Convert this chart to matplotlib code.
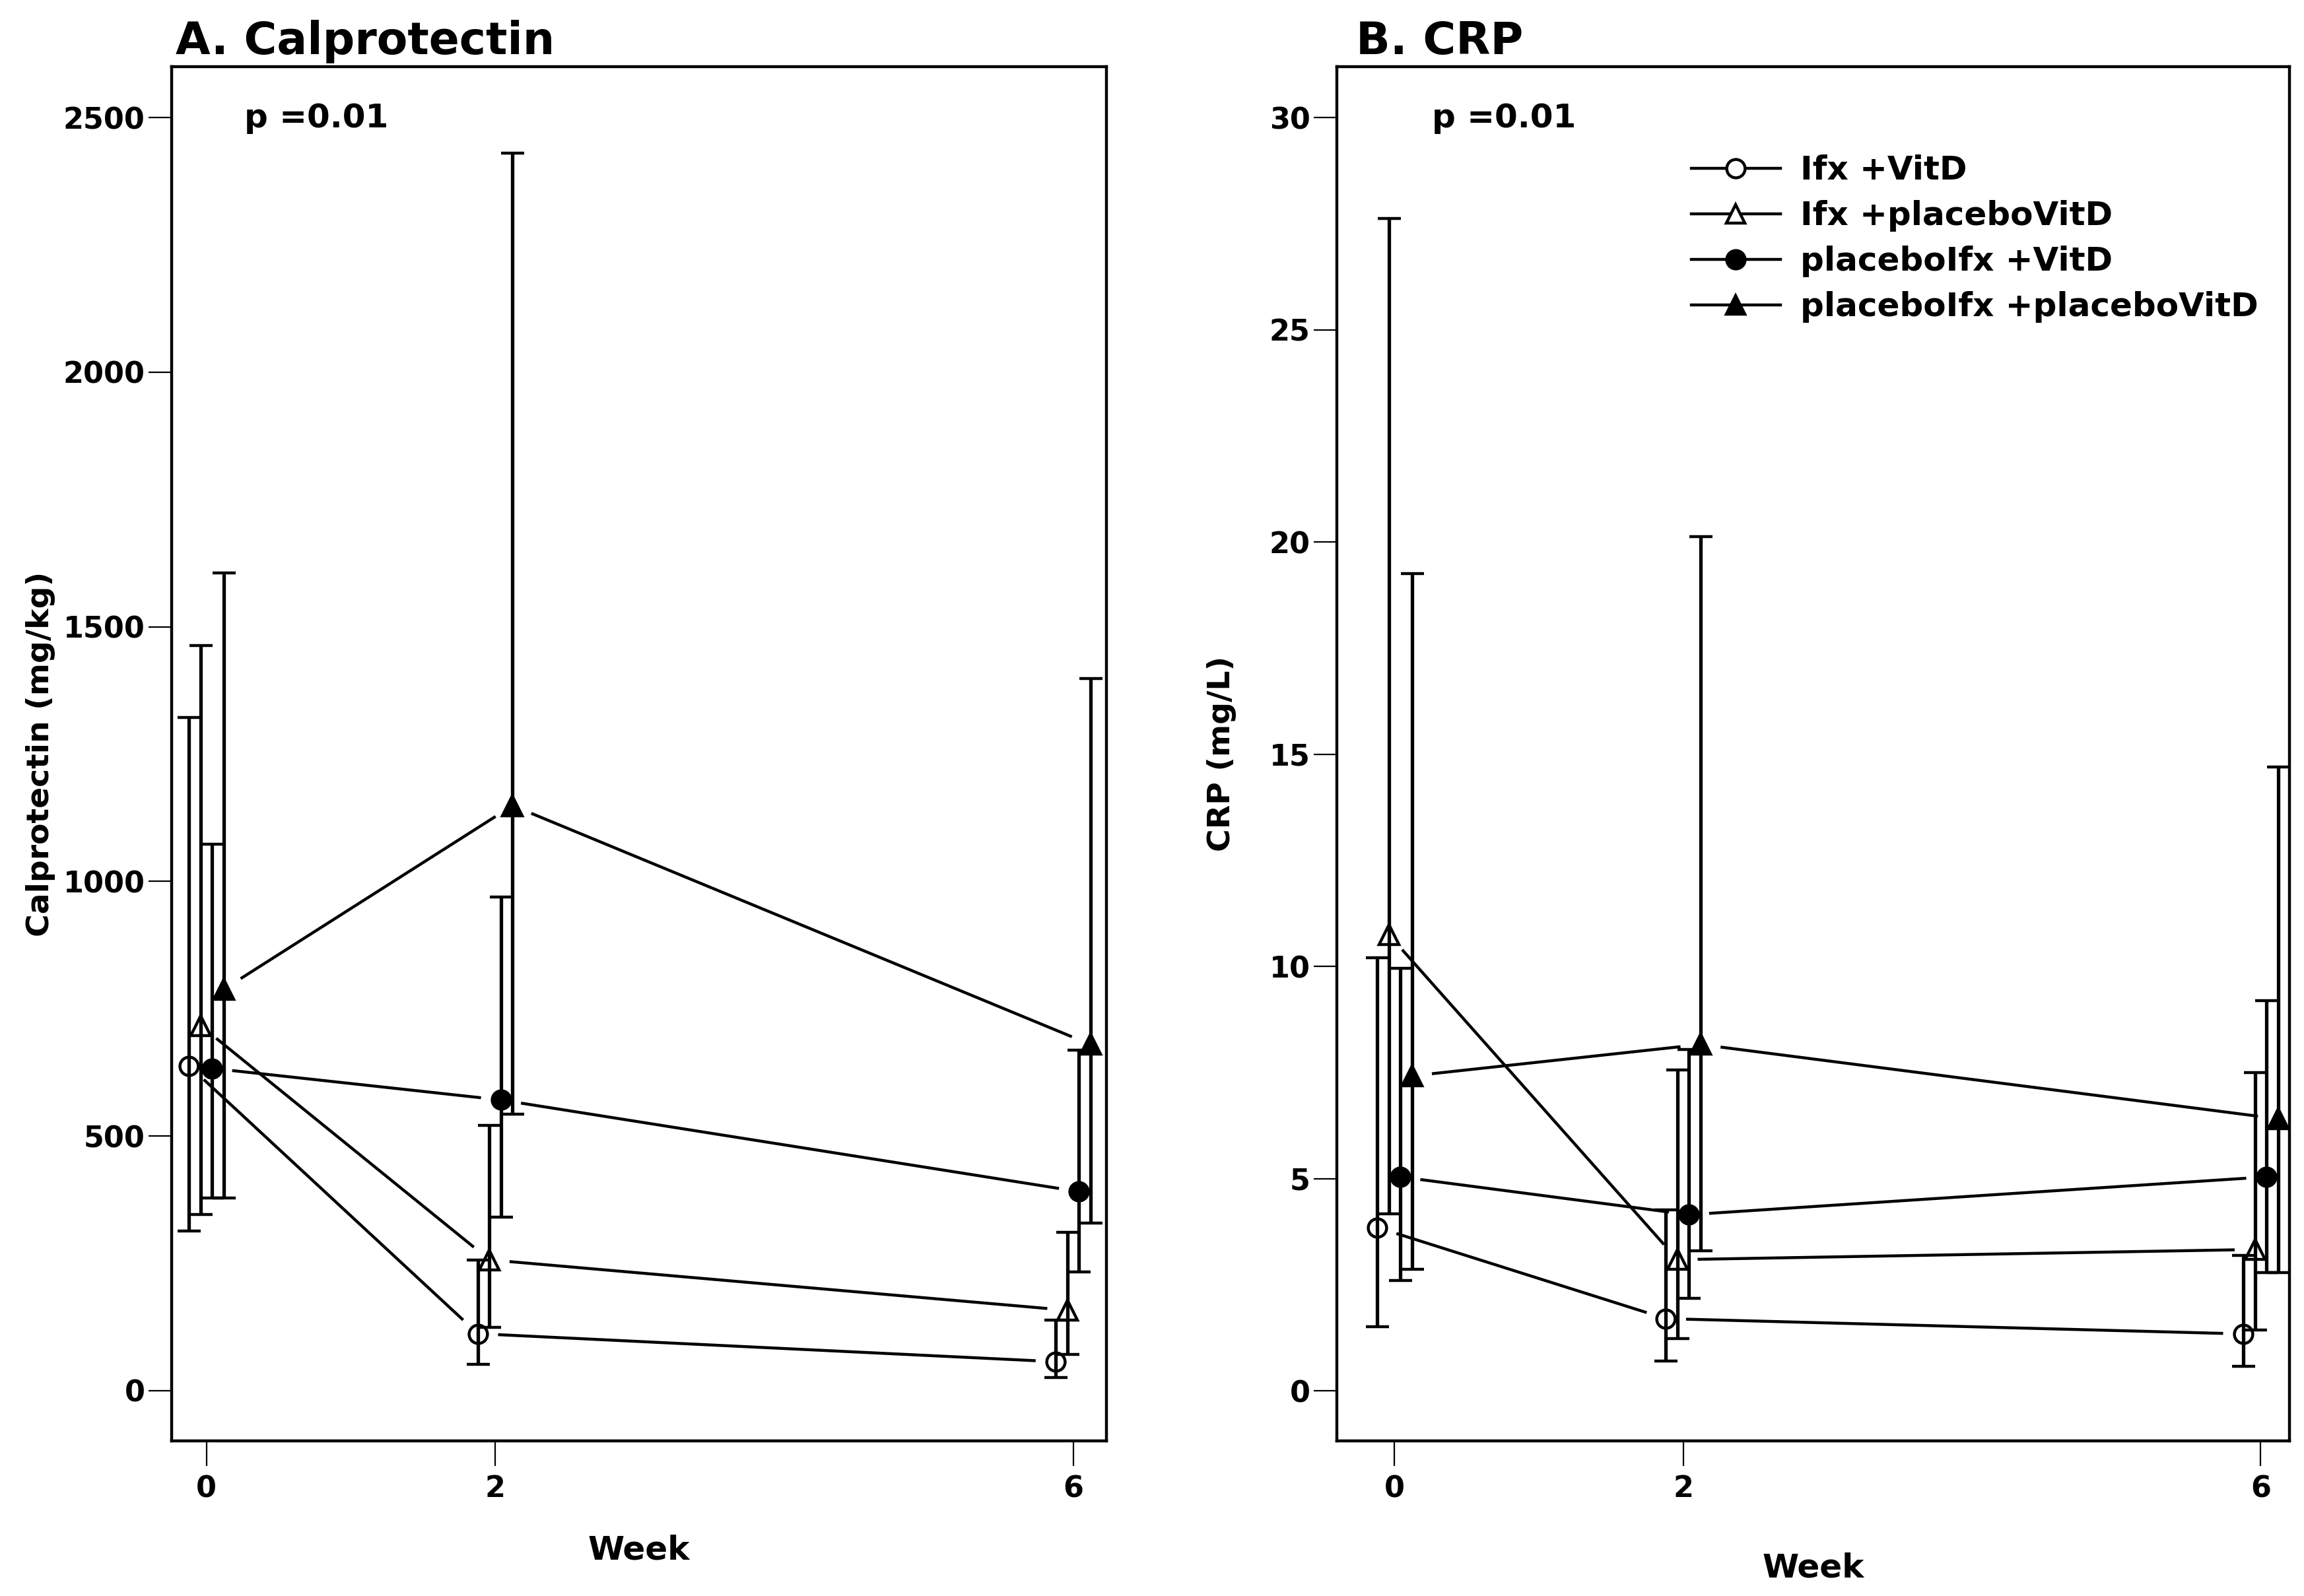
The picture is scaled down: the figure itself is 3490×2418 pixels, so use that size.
import matplotlib
matplotlib.use('Agg')
import matplotlib.pyplot as plt
from matplotlib.lines import Line2D
import numpy as np

plt.rcParams['font.family'] = ['DejaVu Sans']
plt.rcParams['font.weight'] = 'bold'

# ---- data ----
weeks = [0, 2, 6]
groups = ['Ifx +VitD', 'Ifx +placeboVitD', 'placeboIfx +VitD', 'placeboIfx +placeboVitD']

# Calprotectin (mg/kg): mean and error bar ends
calpro_mean = [[638, 112, 57], [717, 257, 158], [633, 571, 391], [788, 1149, 680]]
calpro_low = [[313, 52, 26], [346, 124, 71], [378, 341, 233], [379, 543, 329]]
calpro_high = [[1322, 257, 139], [1463, 521, 311], [1073, 970, 669], [1606, 2430, 1398]]

# CRP (mg/L)
crp_mean = [[3.85, 1.70, 1.34], [10.75, 3.09, 3.33], [5.04, 4.15, 5.04], [7.42, 8.16, 6.41]]
crp_low = [[1.51, 0.70, 0.57], [4.17, 1.23, 1.44], [2.60, 2.18, 2.78], [2.87, 3.30, 2.78]]
crp_high = [[10.2, 4.26, 3.19], [27.63, 7.56, 7.50], [9.96, 8.04, 9.20], [19.25, 20.13, 14.70]]

calpro_ticks = [0, 500, 1000, 1500, 2000, 2500]
crp_ticks = [0, 5, 10, 15, 20, 25, 30]
p_text = 'p =0.01'

# ---- styles ----
markers = ['o', '^', 'o', '^']
filled = [False, False, True, True]
offsets = [-0.12, -0.04, 0.04, 0.12]


def gapped_line(ax, xs, ys, gap_pt=11):
    """connect points with straight segments that stop short of the markers"""
    gap = gap_pt * ax.figure.dpi / 72
    pts = ax.transData.transform(np.column_stack([xs, ys]))
    inv = ax.transData.inverted()
    for p0, p1 in zip(pts[:-1], pts[1:]):
        d = p1 - p0
        u = d / np.hypot(d[0], d[1])
        seg = inv.transform(np.array([p0 + u * gap, p1 - u * gap]))
        ax.plot(seg[:, 0], seg[:, 1], color='black', lw=1.6, solid_capstyle='butt')


def panel(ax, means, lows, highs, xlim, ylim, yticks, title, title_x, p_x,
          ylabel, xlabel_y, ylabel_x):
    ax.set_xlim(*xlim)
    ax.set_ylim(*ylim)
    for i in range(len(groups)):
        x = np.array(weeks) + offsets[i]
        m = np.array(means[i])
        lo = m - np.array(lows[i])
        hi = np.array(highs[i]) - m
        gapped_line(ax, x, m)
        ax.errorbar(x, m, yerr=[lo, hi], fmt=markers[i], ms=11 if markers[i] == '^' else 10,
                    mfc='black' if filled[i] else 'none', mec='black', mew=1.6,
                    ecolor='black', elinewidth=1.9, capsize=6.3, capthick=1.8,
                    linestyle='none', zorder=3)
    ax.set_xticks(weeks)
    ax.set_yticks(yticks)
    ax.tick_params(direction='out', length=12.5, width=0.8, labelsize=16, pad=2)
    ax.tick_params(axis='x', length=13.5, pad=5)
    for s in ax.spines.values():
        s.set_linewidth(1.6)
    ax.set_xlabel('Week', fontsize=18, fontweight='bold')
    ax.set_ylabel(ylabel, fontsize=17, fontweight='bold')
    ax.xaxis.set_label_coords(0.5, xlabel_y)
    ax.yaxis.set_label_coords(ylabel_x, 0.5)
    ax.text(title_x, 1.009, title, transform=ax.transAxes, fontsize=24.5,
            fontweight='bold', ha='left', va='baseline')
    ax.text(p_x, 0.956, p_text, transform=ax.transAxes, fontsize=18,
            fontweight='bold', ha='left', va='baseline')


fig = plt.figure(figsize=(17.45, 12.09), dpi=200)
ax1 = fig.add_axes([0.0745, 0.0972, 0.4057, 0.861])
ax2 = fig.add_axes([0.5802, 0.0972, 0.4135, 0.861])

panel(ax1, calpro_mean, calpro_low, calpro_high, (-0.24, 6.23), (-98.5, 2600),
      calpro_ticks, 'A. Calprotectin', 0.004, 0.078, 'Calprotectin (mg/kg)', -0.068, -0.124)
panel(ax2, crp_mean, crp_low, crp_high, (-0.40, 6.2), (-1.18, 31.2),
      crp_ticks, 'B. CRP', 0.02, 0.10, 'CRP (mg/L)', -0.081, -0.105)

handles = []
for i, g in enumerate(groups):
    handles.append(Line2D([0], [0], color='black', lw=1.6, marker=markers[i],
                          ms=10, mfc='black' if filled[i] else 'white', mec='black', mew=1.6))
ax2.legend(handles, groups, loc='upper left', bbox_to_anchor=(0.372, 0.936),
           frameon=False, fontsize=18, handlelength=2.7, handletextpad=0.6,
           labelspacing=0.42, borderpad=0, borderaxespad=0)

fig.savefig('out.png', dpi=200)
